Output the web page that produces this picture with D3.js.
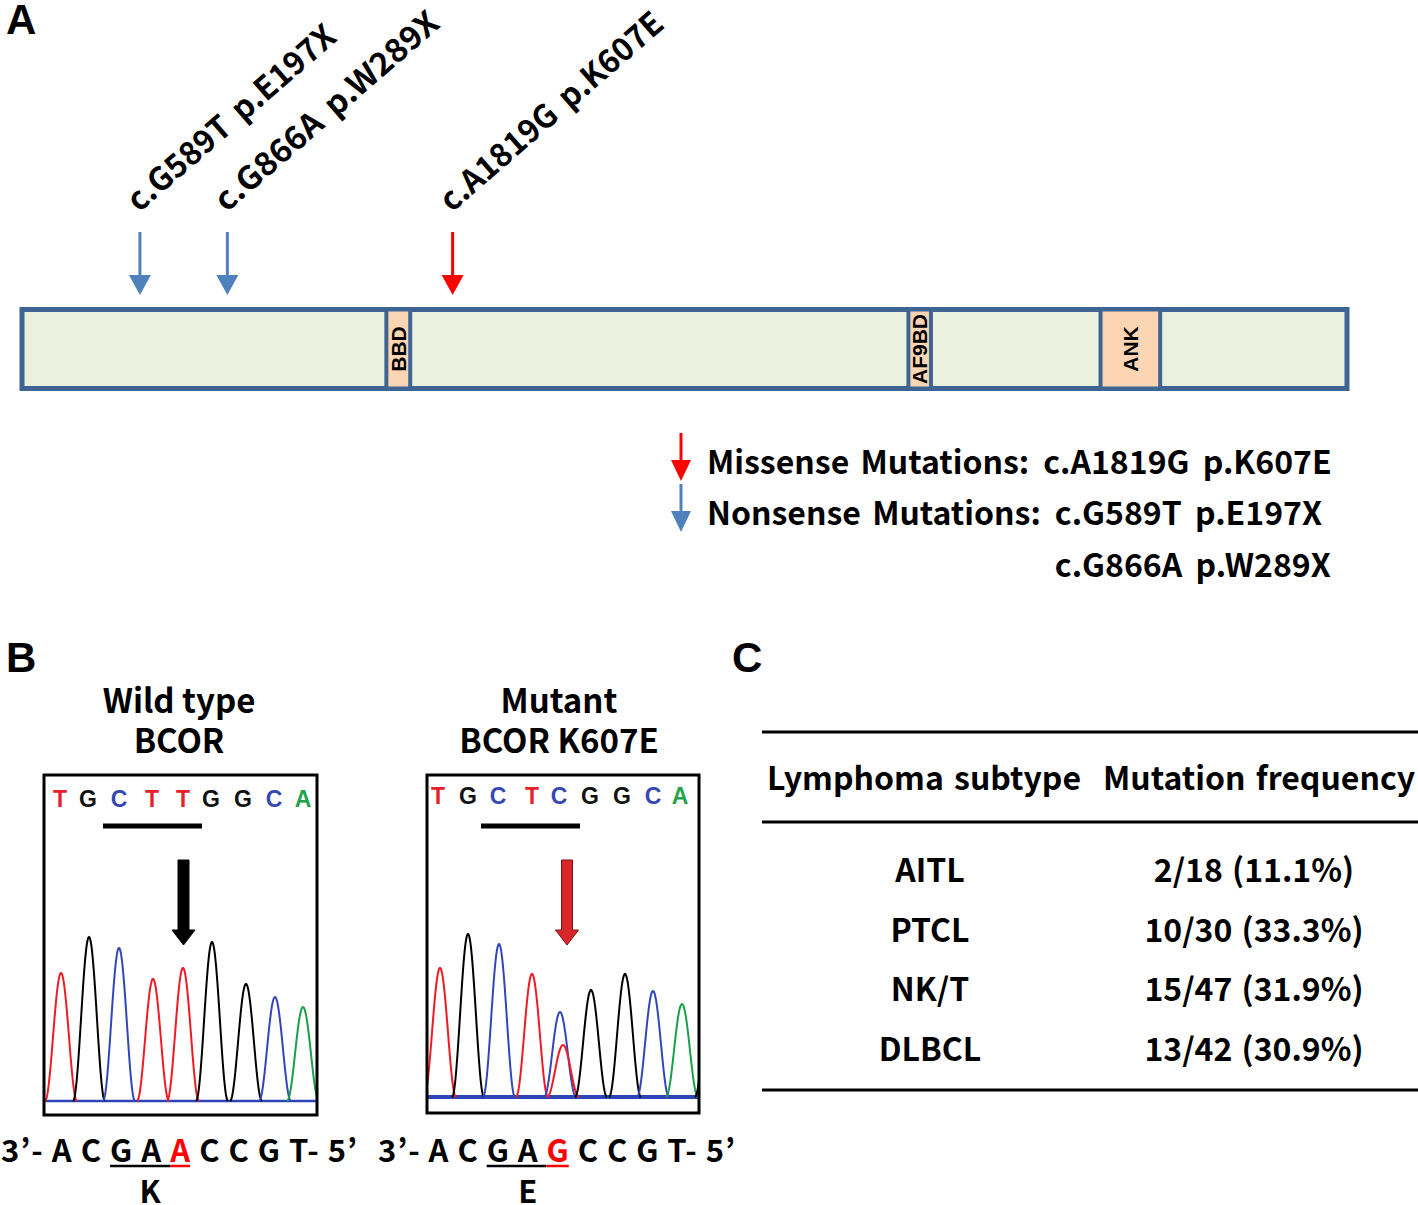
<!DOCTYPE html>
<html>
<head>
<meta charset="utf-8">
<script src="https://cdn.jsdelivr.net/npm/d3@7"></script>
<style>
  body { margin: 0; background: #fff; }
  text { font-family: "Noto Sans CJK KR", "Noto Sans", sans-serif; font-weight: bold; fill: #000; }
  .PanelLetter, .DomainLabel, .Base { font-family: "Liberation Sans", Arial, sans-serif; }
</style>
</head>
<body>
<div id="ChartContainer"></div>
<script>
// Panel A: BCOR protein, positions (0-1000)
var domainNames = ["BBD", "AF9BD", "ANK"]
var domainStart = [275, 669, 814]
var domainEnd = [293, 686, 859]

var mutLabels = ["c.G589T p.E197X", "c.G866A p.W289X", "c.A1819G p.K607E"]
var mutTypes = ["nonsense", "nonsense", "missense"]
var mutPos = [89, 155, 325]

var legendTypes = ["missense", "nonsense"]
var legendTitles = ["Missense Mutations:", "Nonsense Mutations:"]
var legendItems = [["c.A1819G p.K607E"], ["c.G589T p.E197X", "c.G866A p.W289X"]]

// Panel B: chromatograms (positions in scan units, heights in signal units)
var wtTitle = ["Wild type", "BCOR"]
var wtCalls = ["T", "G", "C", "T", "T", "G", "G", "C", "A"]
var wtCallPos = [16, 44, 75, 108, 139, 167, 199, 230, 259]
var wtPeakBase = ["T", "G", "C", "T", "T", "G", "G", "C", "A"]
var wtPeakPos = [17, 45, 75, 109, 139, 168, 202, 231, 259]
var wtPeakHeight = [128, 164, 153, 122, 133, 159, 117, 104, 94]
var wtCodonBar = [59, 158]
var wtArrowPos = 139.5

var mutTitle = ["Mutant", "BCOR K607E"]
var mutCalls = ["T", "G", "C", "T", "C", "G", "G", "C", "A"]
var mutCallPos = [11, 41, 71, 105, 132, 163, 195, 226, 253]
var mutPeakBase = ["T", "G", "C", "T", "C", "T", "G", "G", "C", "A", "G"]
var mutPeakPos = [13, 41, 72, 105, 133, 136, 164, 198, 226, 255, 284]
var mutPeakHeight = [129, 163, 153, 123, 85, 52, 107, 123, 106, 93, 120]
var mutCodonBar = [54, 153]
var mutArrowPos = 140

var wtRead = ["A", "C", "G", "A", "A", "C", "C", "G", "T"]
var mutRead = ["A", "C", "G", "A", "G", "C", "C", "G", "T"]
var codonIdx = [2, 3, 4]
var changedIdx = 4
var aminoAcids = ["K", "E"]

// Panel C: mutation frequency table
var tableHeader = ["Lymphoma subtype", "Mutation frequency"]
var subtypes = ["AITL", "PTCL", "NK/T", "DLBCL"]
var mutatedCases = [2, 10, 15, 13]
var totalCases = [18, 30, 47, 42]
var percents = ["11.1%", "33.3%", "31.9%", "30.9%"]

var mutColor = { missense: "#ff0000", nonsense: "#4f81bd" }
var baseColor = { T: "#e8202a", G: "#111111", C: "#3447b5", A: "#22a34a" }

var fullWidth = 1418
var fullHeight = 1205

var svg = d3.select("#ChartContainer").append("svg")
  .attr("width", fullWidth)
  .attr("height", fullHeight)

svg.append("rect")
  .attr("width", fullWidth)
  .attr("height", fullHeight)
  .attr("fill", "#fff")

// panel letters
svg.selectAll(".PanelLetter")
  .data([["A", 6, 34], ["B", 6, 672], ["C", 732, 672]])
  .enter().append("text")
  .attr("class", "PanelLetter")
  .attr("x", d => d[1])
  .attr("y", d => d[2])
  .attr("font-size", 42)
  .text(d => d[0])

function downArrow(g, cx, y0, y1, color, headLen, headHalf, stem) {
  g.append("line")
    .attr("x1", cx).attr("x2", cx)
    .attr("y1", y0).attr("y2", y1 - headLen + 1)
    .attr("stroke", color)
    .attr("stroke-width", stem)
  g.append("path")
    .attr("d", `M${cx - headHalf},${y1 - headLen}L${cx + headHalf},${y1 - headLen}L${cx},${y1}Z`)
    .attr("fill", color)
}

// ---- Panel A
var barColor = "#3e6494"
var barTop = 309.5
var barBottom = 388.5
var x = d3.scaleLinear().domain([0, 1000]).range([22, 1347])

var gA = svg.append("g")

gA.append("rect")
  .attr("x", x(0))
  .attr("y", barTop)
  .attr("width", x(1000) - x(0))
  .attr("height", barBottom - barTop)
  .attr("fill", "#ebf1de")
  .attr("stroke", barColor)
  .attr("stroke-width", 5)

gA.selectAll(".Domain")
  .data(domainNames)
  .enter().append("rect")
  .attr("class", "Domain")
  .attr("x", (d, i) => x(domainStart[i]))
  .attr("y", barTop)
  .attr("width", (d, i) => x(domainEnd[i]) - x(domainStart[i]))
  .attr("height", barBottom - barTop)
  .attr("fill", "#fcd5b5")
  .attr("stroke", barColor)
  .attr("stroke-width", 4)

gA.selectAll(".DomainLabel")
  .data(domainNames)
  .enter().append("text")
  .attr("class", "DomainLabel")
  .attr("transform", (d, i) => `translate(${(x(domainStart[i]) + x(domainEnd[i])) / 2 + 7.5},${(barTop + barBottom) / 2}) rotate(-90)`)
  .attr("text-anchor", "middle")
  .attr("font-size", 21)
  .text(d => d)

// rotated labels: the reference sets them at about 41 degrees
var labelAngle = -41
var labelLength = [264, 285, 284]
mutPos.forEach((p, i) => {
  downArrow(gA, x(p), 232, 295, mutColor[mutTypes[i]], 20, 11, 3)
  gA.append("text")
    .attr("class", "MutLabel")
    .attr("transform", `translate(${x(p) - 1},213) rotate(${labelAngle})`)
    .attr("font-size", 32)
    .attr("word-spacing", 5)
    .attr("textLength", labelLength[i])
    .attr("lengthAdjust", "spacingAndGlyphs")
    .text(mutLabels[i])
})

// legend
var legendY = [474, 525]
legendTypes.forEach((t, i) => {
  downArrow(gA, 681, legendY[i] - 41, legendY[i] + 7, mutColor[t], 21, 10, 3)
  var title = gA.append("text")
    .attr("x", 707)
    .attr("y", legendY[i])
    .attr("font-size", 32)
    .attr("word-spacing", 4)
    .text(legendTitles[i])
  var listX = 707 + title.node().getComputedTextLength() + 14
  legendItems[i].forEach((item, j) => {
    gA.append("text")
      .attr("x", listX)
      .attr("y", legendY[i] + j * 52)
      .attr("font-size", 32)
      .attr("word-spacing", 6)
      .text(item)
  })
})

// ---- Panel B
var traceColor = { T: "#ee1c25", G: "#000000", C: "#3346b8", A: "#1aa048" }
var halfWidth = 16

// peak outline for one base call (cos^2 shaped mark)
function peakShape(pos, h) {
  return d3.range(-halfWidth, halfWidth + 0.25, 0.5).map(d => {
    var c = Math.cos(Math.PI * d / (2 * halfWidth))
    return [pos + d, h * c * c]
  })
}

function drawChromatogram(cfg) {
  var g = svg.append("g")
  var xs = d3.scaleLinear().domain([0, cfg.x1 - cfg.x0]).range([cfg.x0, cfg.x1])
  var ys = d3.scaleLinear().domain([0, 200]).range([cfg.baseline, cfg.baseline - 200])

  g.selectAll(".Title")
    .data(cfg.title)
    .enter().append("text")
    .attr("x", cfg.titleX)
    .attr("y", (d, i) => 713 + i * 40)
    .attr("text-anchor", "middle")
    .attr("font-size", 33)
    .text(d => d)

  g.append("clipPath")
    .attr("id", cfg.id)
    .append("rect")
    .attr("x", cfg.x0 + 1)
    .attr("y", cfg.y0)
    .attr("width", cfg.x1 - cfg.x0 - 2)
    .attr("height", cfg.y1 - cfg.y0)

  var inner = g.append("g").attr("clip-path", `url(#${cfg.id})`)

  inner.append("line")
    .attr("x1", cfg.x0).attr("x2", cfg.x1)
    .attr("y1", cfg.baseline).attr("y2", cfg.baseline)
    .attr("stroke", "#2d45b8")
    .attr("stroke-width", cfg.baseWidth)

  var line = d3.line()
    .x(d => xs(d[0]))
    .y(d => ys(d[1]))

  inner.selectAll(".Peak")
    .data(cfg.peakPos)
    .enter().append("path")
    .attr("class", "Peak")
    .attr("d", (d, i) => line(peakShape(d, cfg.peakHeight[i])))
    .attr("fill", "none")
    .attr("stroke", (d, i) => traceColor[cfg.peakBase[i]])
    .attr("stroke-width", 2)

  g.selectAll(".Base")
    .data(cfg.calls)
    .enter().append("text")
    .attr("class", "Base")
    .attr("x", (d, i) => xs(cfg.callPos[i]))
    .attr("y", cfg.callY)
    .attr("text-anchor", "middle")
    .attr("font-size", 23)
    .style("fill", d => baseColor[d])
    .text(d => d)

  g.append("line")
    .attr("x1", xs(cfg.codonBar[0])).attr("x2", xs(cfg.codonBar[1]))
    .attr("y1", 826).attr("y2", 826)
    .attr("stroke", "#000")
    .attr("stroke-width", 5)

  // block arrow pointing at the changed base
  var ax = xs(cfg.arrowPos)
  g.append("path")
    .attr("d", `M${ax - 5.5},860L${ax + 5.5},860L${ax + 5.5},930L${ax + 11.5},930L${ax},945L${ax - 11.5},930L${ax - 5.5},930Z`)
    .attr("fill", cfg.arrowFill)
    .attr("stroke", cfg.arrowStroke)
    .attr("stroke-width", 1)

  g.append("rect")
    .attr("x", cfg.x0)
    .attr("y", cfg.y0)
    .attr("width", cfg.x1 - cfg.x0)
    .attr("height", cfg.y1 - cfg.y0)
    .attr("fill", "none")
    .attr("stroke", "#000")
    .attr("stroke-width", 3)

  // read of the opposite strand, codon underlined
  var tokens = ["3’- "]
  cfg.read.forEach((b, i) => {
    tokens.push(b)
    if (i < cfg.read.length - 1) tokens.push(" ")
  })
  tokens.push("- 5’")
  var seq = g.append("text")
    .attr("x", cfg.seqX)
    .attr("y", 1162)
    .attr("font-size", 31)
    .attr("textLength", cfg.seqLen)
    .attr("lengthAdjust", "spacing")
  seq.selectAll("tspan")
    .data(tokens)
    .enter().append("tspan")
    .style("fill", (d, i) => (i === 1 + 2 * changedIdx ? "#ff0000" : "#000"))
    .text(d => d)

  var charAt = i => seq.node().getExtentOfChar(4 + 2 * i)
  var first = charAt(codonIdx[0])
  var hit = charAt(changedIdx)
  g.append("line")
    .attr("x1", first.x).attr("x2", hit.x)
    .attr("y1", 1166).attr("y2", 1166)
    .attr("stroke", "#000").attr("stroke-width", 2.5)
  g.append("line")
    .attr("x1", hit.x).attr("x2", hit.x + hit.width)
    .attr("y1", 1166).attr("y2", 1166)
    .attr("stroke", "#ff0000").attr("stroke-width", 2.5)
  g.append("text")
    .attr("x", (first.x + hit.x + hit.width) / 2)
    .attr("y", 1203)
    .attr("text-anchor", "middle")
    .attr("font-size", 31)
    .text(cfg.amino)
}

drawChromatogram({
  id: "clipWt", title: wtTitle, titleX: 179, x0: 44, x1: 317, y0: 775, y1: 1115, baseline: 1101, baseWidth: 2.5,
  calls: wtCalls, callPos: wtCallPos, callY: 807,
  peakBase: wtPeakBase, peakPos: wtPeakPos, peakHeight: wtPeakHeight,
  codonBar: wtCodonBar, arrowPos: wtArrowPos, arrowFill: "#000", arrowStroke: "#000",
  read: wtRead, seqX: 1, seqLen: 356, amino: aminoAcids[0]
})

drawChromatogram({
  id: "clipMut", title: mutTitle, titleX: 559, x0: 427, x1: 699, y0: 775, y1: 1113, baseline: 1097, baseWidth: 4,
  calls: mutCalls, callPos: mutCallPos, callY: 804,
  peakBase: mutPeakBase, peakPos: mutPeakPos, peakHeight: mutPeakHeight,
  codonBar: mutCodonBar, arrowPos: mutArrowPos, arrowFill: "#d9262b", arrowStroke: "#7a1212",
  read: mutRead, seqX: 378, seqLen: 357, amino: aminoAcids[1]
})

// ---- Panel C
var gC = svg.append("g")

gC.selectAll(".Rule")
  .data([732, 822, 1090])
  .enter().append("line")
  .attr("class", "Rule")
  .attr("x1", 762).attr("x2", 1418)
  .attr("y1", d => d).attr("y2", d => d)
  .attr("stroke", "#000")
  .attr("stroke-width", 3)

gC.selectAll(".Header")
  .data(tableHeader)
  .enter().append("text")
  .attr("class", "Header")
  .attr("x", (d, i) => [767, 1103][i])
  .attr("y", 790)
  .attr("font-size", 32)
  .attr("word-spacing", 3)
  .text(d => d)

var rowY = d3.scalePoint().domain(subtypes).range([882, 1061])

gC.selectAll(".Subtype")
  .data(subtypes)
  .enter().append("text")
  .attr("class", "Subtype")
  .attr("x", 930)
  .attr("y", d => rowY(d))
  .attr("text-anchor", "middle")
  .attr("font-size", 32)
  .text(d => d)

gC.selectAll(".Freq")
  .data(subtypes)
  .enter().append("text")
  .attr("class", "Freq")
  .attr("x", 1254)
  .attr("y", d => rowY(d))
  .attr("text-anchor", "middle")
  .attr("font-size", 32)
  .attr("word-spacing", 2)
  .text((d, i) => `${mutatedCases[i]}/${totalCases[i]} (${percents[i]})`)
</script>
</body>
</html>
